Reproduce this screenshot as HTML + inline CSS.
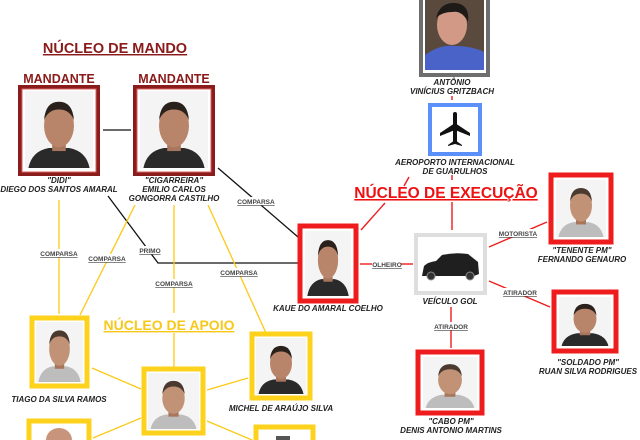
<!DOCTYPE html>
<html><head><meta charset="utf-8"><style>
html,body{margin:0;padding:0;background:#fff;}
svg{display:block;}
text{font-family:"Liberation Sans",sans-serif;}
.n{font-size:8px;font-weight:bold;font-style:italic;fill:#222;text-anchor:middle;}
.l{font-size:6.5px;font-weight:bold;fill:#444;text-anchor:middle;text-decoration:underline;}
</style></head><body>
<svg width="640" height="440" viewBox="0 0 640 440" xmlns="http://www.w3.org/2000/svg">
<defs>
<g id="face">
<rect x="0" y="0" width="100" height="100" fill="#f4f4f4"/>
<path d="M5 100 Q10 78 35 74 L65 74 Q90 78 95 100 Z" fill="#2a2a2a"/>
<rect x="40" y="60" width="20" height="18" fill="#a8765c"/>
<ellipse cx="50" cy="45" rx="22" ry="28" fill="#b9856a"/>
<path d="M28 38 Q30 14 50 14 Q70 14 72 38 Q66 24 50 24 Q34 24 28 38Z" fill="#2b211c"/>
</g>
<g id="faceg">
<rect x="0" y="0" width="100" height="100" fill="#f4f4f4"/>
<path d="M5 100 Q10 78 35 74 L65 74 Q90 78 95 100 Z" fill="#bdbdbd"/>
<rect x="40" y="60" width="20" height="18" fill="#a8765c"/>
<ellipse cx="50" cy="45" rx="22" ry="28" fill="#c29277"/>
<path d="M28 38 Q30 14 50 14 Q70 14 72 38 Q66 24 50 24 Q34 24 28 38Z" fill="#4a3a30"/>
</g>
</defs>

<!-- black connectors -->
<g stroke="#111" stroke-width="1.3" fill="none">
<line x1="103" y1="130" x2="131" y2="130"/>
<line x1="218" y1="168" x2="298" y2="237"/>
<polyline points="108,196 158,263 298,263"/>
</g>

<!-- yellow connectors -->
<g stroke="#fcc916" stroke-width="1.3" fill="none">
<line x1="59" y1="200" x2="59" y2="314"/>
<line x1="135" y1="205" x2="80" y2="315"/>
<line x1="174" y1="205" x2="174" y2="313"/>
<line x1="174" y1="333" x2="174" y2="368"/>
<line x1="208" y1="205" x2="266" y2="333"/>
<line x1="92" y1="368" x2="141" y2="389"/>
<line x1="207" y1="390" x2="248" y2="378"/>
<line x1="141" y1="418" x2="93" y2="438"/>
<line x1="207" y1="421" x2="252" y2="440"/>
</g>

<!-- red connectors -->
<g stroke="#ee1c1c" stroke-width="1.4" fill="none">
<line x1="361" y1="230" x2="385" y2="203"/>
<line x1="452" y1="202" x2="452" y2="230"/>
<line x1="452" y1="175" x2="452" y2="180"/>
<line x1="409" y1="177" x2="404" y2="186"/>
<line x1="452" y1="96" x2="452" y2="100"/>
<line x1="360" y1="264" x2="372" y2="264"/>
<line x1="401" y1="264" x2="413" y2="264"/>
<line x1="489" y1="247" x2="547" y2="222"/>
<line x1="489" y1="281" x2="550" y2="307"/>
<line x1="451" y1="307" x2="451" y2="348"/>
</g>

<!-- connector labels -->
<g>
<rect x="236" y="197" width="40" height="8" fill="#fff"/>
<text class="l" x="256" y="204">COMPARSA</text>
<rect x="39" y="249" width="40" height="8" fill="#fff"/>
<text class="l" x="59" y="256">COMPARSA</text>
<rect x="86" y="254" width="40" height="8" fill="#fff"/>
<text class="l" x="107" y="261">COMPARSA</text>
<rect x="135" y="246" width="30" height="8" fill="#fff"/>
<text class="l" x="150" y="253">PRIMO</text>
<rect x="154" y="279" width="40" height="8" fill="#fff"/>
<text class="l" x="174" y="286">COMPARSA</text>
<rect x="219" y="268" width="40" height="8" fill="#fff"/>
<text class="l" x="239" y="275">COMPARSA</text>
<text class="l" x="387" y="267">OLHEIRO</text>
<rect x="497" y="229" width="42" height="8" fill="#fff"/>
<text class="l" x="518" y="236">MOTORISTA</text>
<rect x="501" y="288" width="37" height="8" fill="#fff"/>
<text class="l" x="520" y="295">ATIRADOR</text>
<rect x="432" y="322" width="38" height="8" fill="#fff"/>
<text class="l" x="451" y="329">ATIRADOR</text>
</g>

<!-- Titles -->
<text x="115" y="53" font-size="14.5" font-weight="bold" fill="#8b1a1a" text-anchor="middle" text-decoration="underline">NÚCLEO DE MANDO</text>
<text x="59" y="83" font-size="12.5" font-weight="bold" fill="#8b1a1a" text-anchor="middle">MANDANTE</text>
<text x="174" y="83" font-size="12.5" font-weight="bold" fill="#8b1a1a" text-anchor="middle">MANDANTE</text>
<text x="446" y="198" font-size="15.5" font-weight="bold" fill="#ee1111" text-anchor="middle" text-decoration="underline">NÚCLEO DE EXECUÇÃO</text>
<text x="169" y="330" font-size="14" font-weight="bold" fill="#f7c81a" text-anchor="middle" text-decoration="underline">NÚCLEO DE APOIO</text>

<!-- Mando frames -->
<rect x="18" y="85" width="82" height="91" fill="#8b1c1c"/>
<rect x="22" y="89" width="74" height="83" fill="#fff" stroke="#d86060" stroke-width="1"/>
<svg x="25" y="91" width="68" height="77" viewBox="0 0 100 100" preserveAspectRatio="none"><use href="#face"/></svg>
<rect x="133" y="85" width="82" height="91" fill="#8b1c1c"/>
<rect x="137" y="89" width="74" height="83" fill="#fff" stroke="#d86060" stroke-width="1"/>
<svg x="140" y="91" width="68" height="77" viewBox="0 0 100 100" preserveAspectRatio="none"><use href="#face"/></svg>
<text class="n" x="59" y="183">"DIDI"</text>
<text class="n" x="59" y="192">DIEGO DOS SANTOS AMARAL</text>
<text class="n" x="174" y="183">"CIGARREIRA"</text>
<text class="n" x="174" y="192">EMILIO CARLOS</text>
<text class="n" x="174" y="201">GONGORRA CASTILHO</text>

<!-- Antonio -->
<rect x="419" y="-2" width="71" height="79" fill="#6e6e6e"/>
<rect x="423" y="-2" width="63" height="75" fill="#fff"/>
<rect x="425" y="-2" width="59" height="72" fill="#5a4a3e"/>
<path d="M425 70 L425 55 Q440 44 455 46 Q472 46 484 52 L484 70Z" fill="#4a63c9"/>
<ellipse cx="452" cy="25" rx="15" ry="20" fill="#d29a86"/>
<path d="M436 18 Q440 2 455 3 Q470 4 468 22 Q462 10 452 12 Q442 12 436 18Z" fill="#1e1a18"/>
<text class="n" x="452" y="85">ANTÔNIO</text>
<text class="n" x="452" y="94">VINÍCIUS GRITZBACH</text>

<!-- Airport -->
<rect x="430" y="105" width="50" height="49" fill="#fff" stroke="#5b8ff9" stroke-width="4"/>
<g fill="#111">
<rect x="453" y="112" width="4" height="32" rx="2"/>
<polygon points="455,123 440,133 440,136 455,130 470,136 470,133"/>
<polygon points="455,140 448,145 448,146 455,144 462,146 462,145"/>
</g>
<text class="n" x="455" y="165">AEROPORTO INTERNACIONAL</text>
<text class="n" x="455" y="174">DE GUARULHOS</text>

<!-- Kaue -->
<rect x="300" y="226" width="56" height="75" fill="#fff" stroke="#ee1c1c" stroke-width="5"/>
<svg x="305" y="231" width="46" height="65" viewBox="0 0 100 100" preserveAspectRatio="none"><use href="#face"/></svg>
<text class="n" x="328" y="311">KAUE DO AMARAL COELHO</text>

<!-- Car -->
<rect x="416" y="235" width="69" height="58" fill="#fff" stroke="#dedede" stroke-width="4"/>
<path d="M422 276 L424 266 Q428 262 436 261 L442 255 Q455 252 468 254 L478 262 L479 274 L474 276 Z" fill="#1f1f1f"/>
<circle cx="431" cy="276" r="4" fill="#333" stroke="#888"/>
<circle cx="470" cy="276" r="4" fill="#333" stroke="#888"/>
<text class="n" x="450" y="304">VEÍCULO GOL</text>

<!-- Fernando -->
<rect x="551" y="175" width="60" height="67" fill="#fff" stroke="#ee1c1c" stroke-width="5"/>
<svg x="556" y="180" width="50" height="57" viewBox="0 0 100 100" preserveAspectRatio="none"><use href="#faceg"/></svg>
<text class="n" x="582" y="253">"TENENTE PM"</text>
<text class="n" x="582" y="262">FERNANDO GENAURO</text>

<!-- Ruan -->
<rect x="554" y="292" width="62" height="59" fill="#fff" stroke="#ee1c1c" stroke-width="5"/>
<svg x="559" y="297" width="52" height="49" viewBox="0 0 100 100" preserveAspectRatio="none"><use href="#face"/></svg>
<text class="n" x="588" y="365">"SOLDADO PM"</text>
<text class="n" x="588" y="374">RUAN SILVA RODRIGUES</text>

<!-- Denis -->
<rect x="418" y="352" width="64" height="61" fill="#fff" stroke="#ee1c1c" stroke-width="5"/>
<svg x="423" y="357" width="54" height="51" viewBox="0 0 100 100" preserveAspectRatio="none"><use href="#faceg"/></svg>
<text class="n" x="451" y="424">"CABO PM"</text>
<text class="n" x="451" y="433">DENIS ANTONIO MARTINS</text>

<!-- Yellow frames -->
<rect x="32" y="318" width="55" height="68" fill="#fff" stroke="#fcd21c" stroke-width="5"/>
<svg x="36" y="322" width="47" height="60" viewBox="0 0 100 100" preserveAspectRatio="none"><use href="#faceg"/></svg>
<text class="n" x="59" y="402">TIAGO DA SILVA RAMOS</text>

<rect x="252" y="334" width="58" height="64" fill="#fff" stroke="#fcd21c" stroke-width="5"/>
<svg x="256" y="338" width="50" height="56" viewBox="0 0 100 100" preserveAspectRatio="none"><use href="#face"/></svg>
<text class="n" x="281" y="411">MICHEL DE ARAÚJO SILVA</text>

<rect x="144" y="369" width="59" height="64" fill="#fff" stroke="#fcd21c" stroke-width="5"/>
<svg x="148" y="373" width="51" height="56" viewBox="0 0 100 100" preserveAspectRatio="none"><use href="#faceg"/></svg>

<rect x="29" y="421" width="60" height="30" fill="#fff" stroke="#fcd21c" stroke-width="5"/>
<ellipse cx="59" cy="440" rx="13" ry="12" fill="#c8957c"/>
<rect x="256" y="427" width="57" height="30" fill="#fff" stroke="#fcd21c" stroke-width="5"/>
<rect x="276" y="436" width="14" height="4" fill="#555"/>
</svg>
</body></html>
